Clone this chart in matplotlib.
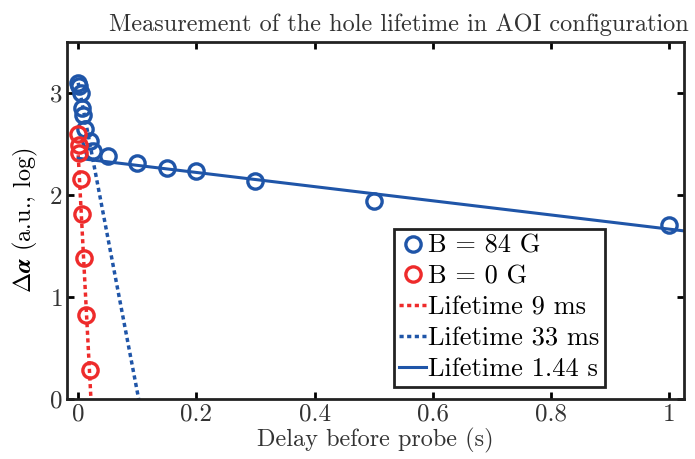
import numpy as np
import matplotlib
matplotlib.use("Agg")
import matplotlib.pyplot as plt

plt.rcParams['font.family'] = 'serif'
plt.rcParams['font.serif'] = ['cmr10']
plt.rcParams['mathtext.fontset'] = 'cm'
plt.rcParams['axes.formatter.use_mathtext'] = True

# data
t_84 = [0.0, 0.002, 0.004, 0.006, 0.008, 0.012, 0.02, 0.025, 0.05, 0.1, 0.15, 0.2, 0.3, 0.5, 1.0]
y_84 = [3.10, 3.07, 3.00, 2.85, 2.78, 2.65, 2.53, 2.43, 2.38, 2.31, 2.26, 2.24, 2.14, 1.94, 1.71]
t_0 = [0.0, 0.001, 0.002, 0.005, 0.007, 0.01, 0.014, 0.02]
y_0 = [2.60, 2.49, 2.41, 2.16, 1.81, 1.38, 0.82, 0.28]

tau_fast = 0.009
tau_mid = 0.033
tau_slow = 1.44
y0_fast = 2.39
y0_mid = 3.10
y0_slow = 2.36

blue = '#1f55a8'
red = '#ee2b2b'

fig = plt.figure(figsize=(6.95, 4.59), dpi=100)
ax = fig.add_axes([0.0964, 0.1307, 0.8876, 0.7778])

ax.plot(t_84, y_84, 'o', mfc='none', mec=blue, mew=2.4, ms=11, label='B = 84 G', zorder=3)
ax.plot(t_0, y_0, 'o', mfc='none', mec=red, mew=2.4, ms=11, label='B = 0 G', zorder=3)

tf = np.linspace(0, y0_fast * tau_fast, 50)
ax.plot(tf, y0_fast - tf / tau_fast, color=red, lw=2.5, ls=(0, (1.2, 1.0)), label='Lifetime 9 ms')
tm = np.linspace(0, y0_mid * tau_mid, 50)
ax.plot(tm, y0_mid - tm / tau_mid, color=blue, lw=2.5, ls=(0, (1.2, 1.0)), label='Lifetime 33 ms')
ts = np.linspace(0, 1.05, 50)
ax.plot(ts, y0_slow - ts / tau_slow, color=blue, lw=2.2, label='Lifetime 1.44 s')

ax.set_xlim(-0.019, 1.025)
ax.set_ylim(0, 3.5)
ax.set_xticks([0, 0.2, 0.4, 0.6, 0.8, 1])
ax.set_xticklabels(['0', '0.2', '0.4', '0.6', '0.8', '1'])
ax.set_yticks([0, 1, 2, 3])
ax.tick_params(direction='in', top=True, right=True, width=2, length=5,
               labelsize=18, labelcolor='#333333')
for s in ax.spines.values():
    s.set_linewidth(2)
    s.set_color('#222222')

ax.set_xlabel('Delay before probe (s)', fontsize=17.5, labelpad=1, color='#333333')
ax.set_ylabel(r'$\boldsymbol{\Delta\alpha}$ (a.u., log)', fontsize=17.5, labelpad=6)
ax.set_title('Measurement of the hole lifetime in AOI configuration', fontsize=17.5, pad=8,
             color='#333333', x=0.538)

leg = ax.legend(loc='lower right', bbox_to_anchor=(0.872, 0.035), fontsize=19,
                handlelength=1.0, handletextpad=0.1, borderpad=0.2, labelspacing=0.27,
                borderaxespad=0, fancybox=False, framealpha=1, edgecolor='#222222')
leg.get_frame().set_linewidth(2)

fig.savefig('out.png', dpi=100)
